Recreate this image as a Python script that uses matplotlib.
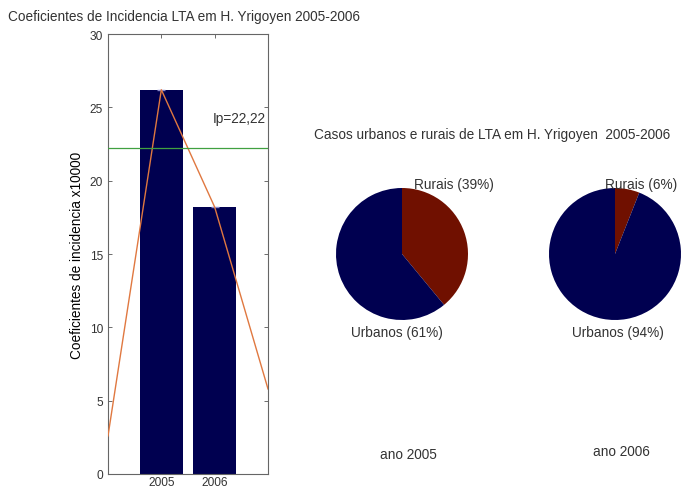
import matplotlib.pyplot as plt

anos = ['2005', '2006']
coef = [26.2, 18.2]
ip = 22.22
# curve of the rates drawn over the bars
curva_x = [0, 1, 2, 3]
curva_y = [2.6, 26.2, 18.2, 5.8]

pie_labels = ['Rurais', 'Urbanos']
pie_2005 = [39, 61]
pie_2006 = [6, 94]

navy = '#000050'
rural = '#701000'

plt.rcParams['font.family'] = 'Liberation Sans'
plt.rcParams['font.size'] = 9.8
plt.rcParams['text.color'] = '#333333'

fig = plt.figure(figsize=(6.85, 4.89), dpi=100)

# bar chart
ax = fig.add_axes([108/685, 1 - 475/489, 160/685, 440/489])
ax.bar([1, 2], coef, width=0.8, color=navy, zorder=2)
ax.plot([1, 2], coef, linestyle='none', marker='_', markersize=6, color='#8888cc', zorder=3)
ax.plot(curva_x, curva_y, color='#e07840', linewidth=1.0, zorder=4)
ax.axhline(ip, color='#40a040', linewidth=0.9, zorder=4)
ax.text(1.97, 24.3, 'Ip=' + f'{ip:.2f}'.replace('.', ','), ha='left', va='center')
ax.set_xlim(0, 3)
ax.set_ylim(0, 30)
ax.set_xticks([1, 2])
ax.set_xticklabels(anos)
ax.set_yticks(range(0, 31, 5))
ax.tick_params(direction='in', top=True, right=True, length=3, colors='#555555',
               labelcolor='#333333', width=0.6, labelsize=8.6)
ax.tick_params(axis='x', pad=1.5)
for s in ax.spines.values():
    s.set_color('#666666')
    s.set_linewidth(0.8)
ax.set_ylabel('Coeficientes de incidencia x10000', labelpad=4)
fig.text(8/685, 1 - 17/489, 'Coeficientes de Incidencia LTA em H. Yrigoyen 2005-2006',
         ha='left', va='center')

# pies
r = 66
pies = [(402, pie_2005, '2005', 455, 0.79, -0.08),
        (615, pie_2006, '2006', 452, 0.40, 0.05)]
for cx, vals, ano, lbl_y, rx, ux in pies:
    pa = fig.add_axes([(cx - r)/685, 1 - (255 + r)/489, 2*r/685, 2*r/489])
    pa.pie(vals, colors=[rural, navy], startangle=90, counterclock=False,
           wedgeprops=dict(linewidth=0))
    pa.set_xlim(-1, 1)
    pa.set_ylim(-1, 1)
    pa.set_aspect('auto')
    pa.text(rx, 1.06, f'{pie_labels[0]} ({vals[0]}%)', ha='center', va='center',
            clip_on=False)
    pa.text(ux, -1.18, f'{pie_labels[1]} ({vals[1]}%)', ha='center', va='center',
            clip_on=False)
    fig.text((cx + 6)/685, 1 - lbl_y/489, 'ano ' + ano, ha='center', va='center')

fig.text(492/685, 1 - 135/489, 'Casos urbanos e rurais de LTA em H. Yrigoyen  2005-2006',
         ha='center', va='center')

fig.savefig('out.png', dpi=100)
